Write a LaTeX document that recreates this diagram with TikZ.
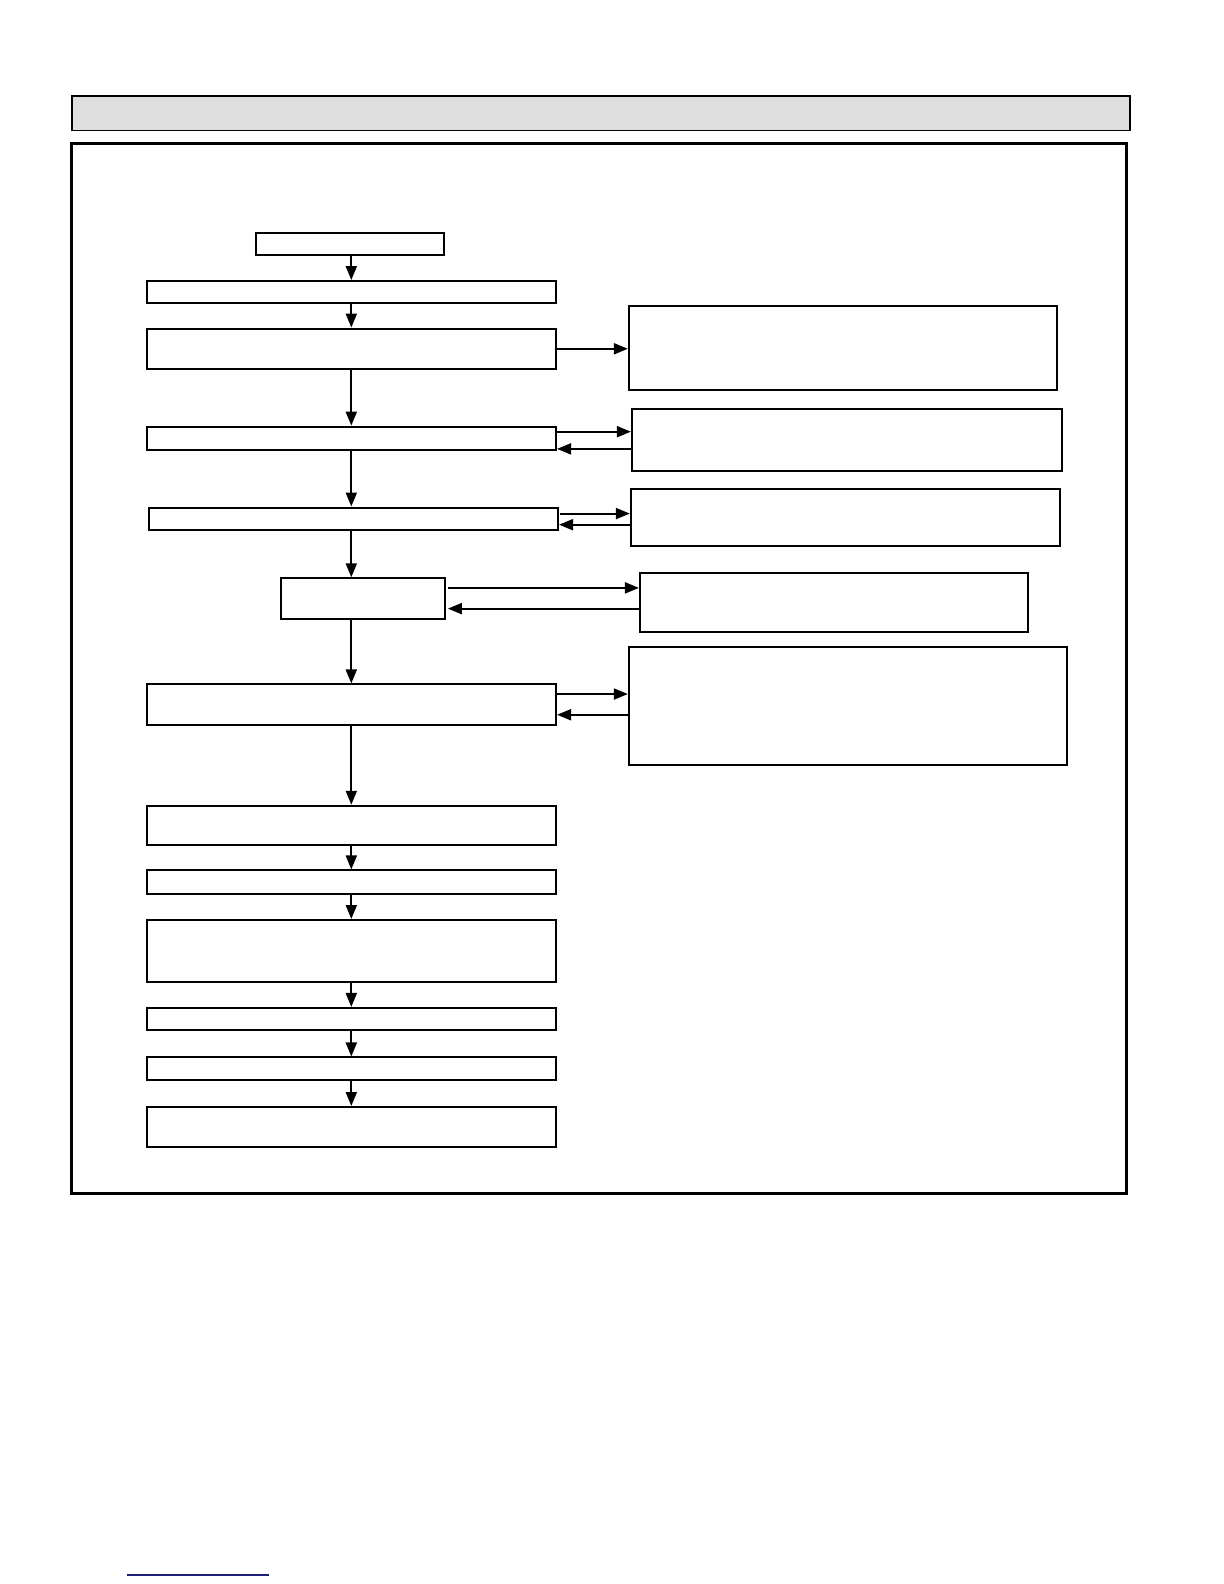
\documentclass[tikz,border=0pt]{standalone}
\usetikzlibrary{arrows.meta,fit}
\definecolor{hdrgray}{RGB}{222,222,222}
\definecolor{linkblue}{RGB}{30,30,120}
\begin{document}
\begin{tikzpicture}[x=1.011pt,y=-1.011pt,
  box/.style={draw, line width=2pt, inner sep=0pt, fill=white},
  hdr/.style={draw, line width=1.8pt, inner sep=0pt, fill=hdrgray},
  frm/.style={draw, line width=3pt, inner sep=0pt},
  arr/.style={line width=2pt, -{Triangle[length=14pt,width=11pt]}}]
\useasboundingbox (0,0) rectangle (1210.7,1566.8);
\fill[white] (0,0) rectangle (1210.7,1566.8);
% header and frame
\node[hdr, fit={(71,95)(1118,129)}] (header) {};
\node[frm, fit={(71,142)(1114,1180.5)}] (frame) {};
% left column
\node[box, fit={(253,230)(439,252)}] (b1) {};
\node[box, fit={(145,278)(550,300)}] (b2) {};
\node[box, fit={(145,325)(550,365)}] (b3) {};
\node[box, fit={(145,422)(550,445)}] (b4) {};
\node[box, fit={(147,502)(552,524)}] (b5) {};
\node[box, fit={(278,572)(440,612)}] (b6) {};
\node[box, fit={(145,677)(550,717)}] (b7) {};
\node[box, fit={(145,797)(550,836)}] (b8) {};
\node[box, fit={(145,861)(550,884)}] (b9) {};
\node[box, fit={(145,910)(550,971)}] (b10) {};
\node[box, fit={(145,997)(550,1019)}] (b11) {};
\node[box, fit={(145,1046)(550,1068)}] (b12) {};
\node[box, fit={(145,1095)(550,1135)}] (b13) {};
% right column
\node[box, fit={(622,303)(1046,386)}] (r1) {};
\node[box, fit={(625,405)(1050,466)}] (r2) {};
\node[box, fit={(624,484)(1048,540)}] (r3) {};
\node[box, fit={(633,567)(1017,625)}] (r4) {};
\node[box, fit={(622,640)(1055,757)}] (r5) {};
% helper coordinates
\coordinate (col) at (347.5,0);
\coordinate (y2a) at (0,427);  \coordinate (y2b) at (0,444);
\coordinate (y3a) at (0,508);  \coordinate (y3b) at (0,519);
\coordinate (y4a) at (0,581.5);\coordinate (y4b) at (0,602);
\coordinate (y5a) at (0,686.5);\coordinate (y5b) at (0,707);
\coordinate (b5s) at (553.5,0);
\coordinate (b6s) at (443,0);
% vertical flow
\draw[arr] (b1.south -| col) -- (b2.north -| col);
\draw[arr] (b2.south -| col) -- (b3.north -| col);
\draw[arr] (b3.south -| col) -- (b4.north -| col);
\draw[arr] (b4.south -| col) -- (b5.north -| col);
\draw[arr] (b5.south -| col) -- (b6.north -| col);
\draw[arr] (b6.south -| col) -- (b7.north -| col);
\draw[arr] (b7.south -| col) -- (b8.north -| col);
\draw[arr] (b8.south -| col) -- (b9.north -| col);
\draw[arr] (b9.south -| col) -- (b10.north -| col);
\draw[arr] (b10.south -| col) -- (b11.north -| col);
\draw[arr] (b11.south -| col) -- (b12.north -| col);
\draw[arr] (b12.south -| col) -- (b13.north -| col);
% side arrows
\draw[arr] (b3.east) -- (r1.west |- b3.east);
\draw[arr] (b4.east |- y2a) -- (r2.west |- y2a);
\draw[arr] (r2.west |- y2b) -- (b4.east |- y2b);
\draw[arr] (b5s |- y3a) -- (r3.west |- y3a);
\draw[arr] (r3.west |- y3b) -- (b5.east |- y3b);
\draw[arr] (b6s |- y4a) -- (r4.west |- y4a);
\draw[arr] (r4.west |- y4b) -- (b6s |- y4b);
\draw[arr] (b7.east |- y5a) -- (r5.west |- y5a);
\draw[arr] (r5.west |- y5b) -- (b7.east |- y5b);
% footer link line
\draw[linkblue, line width=1.5pt] (125.6,1558) -- (266,1558);
\end{tikzpicture}
\end{document}
